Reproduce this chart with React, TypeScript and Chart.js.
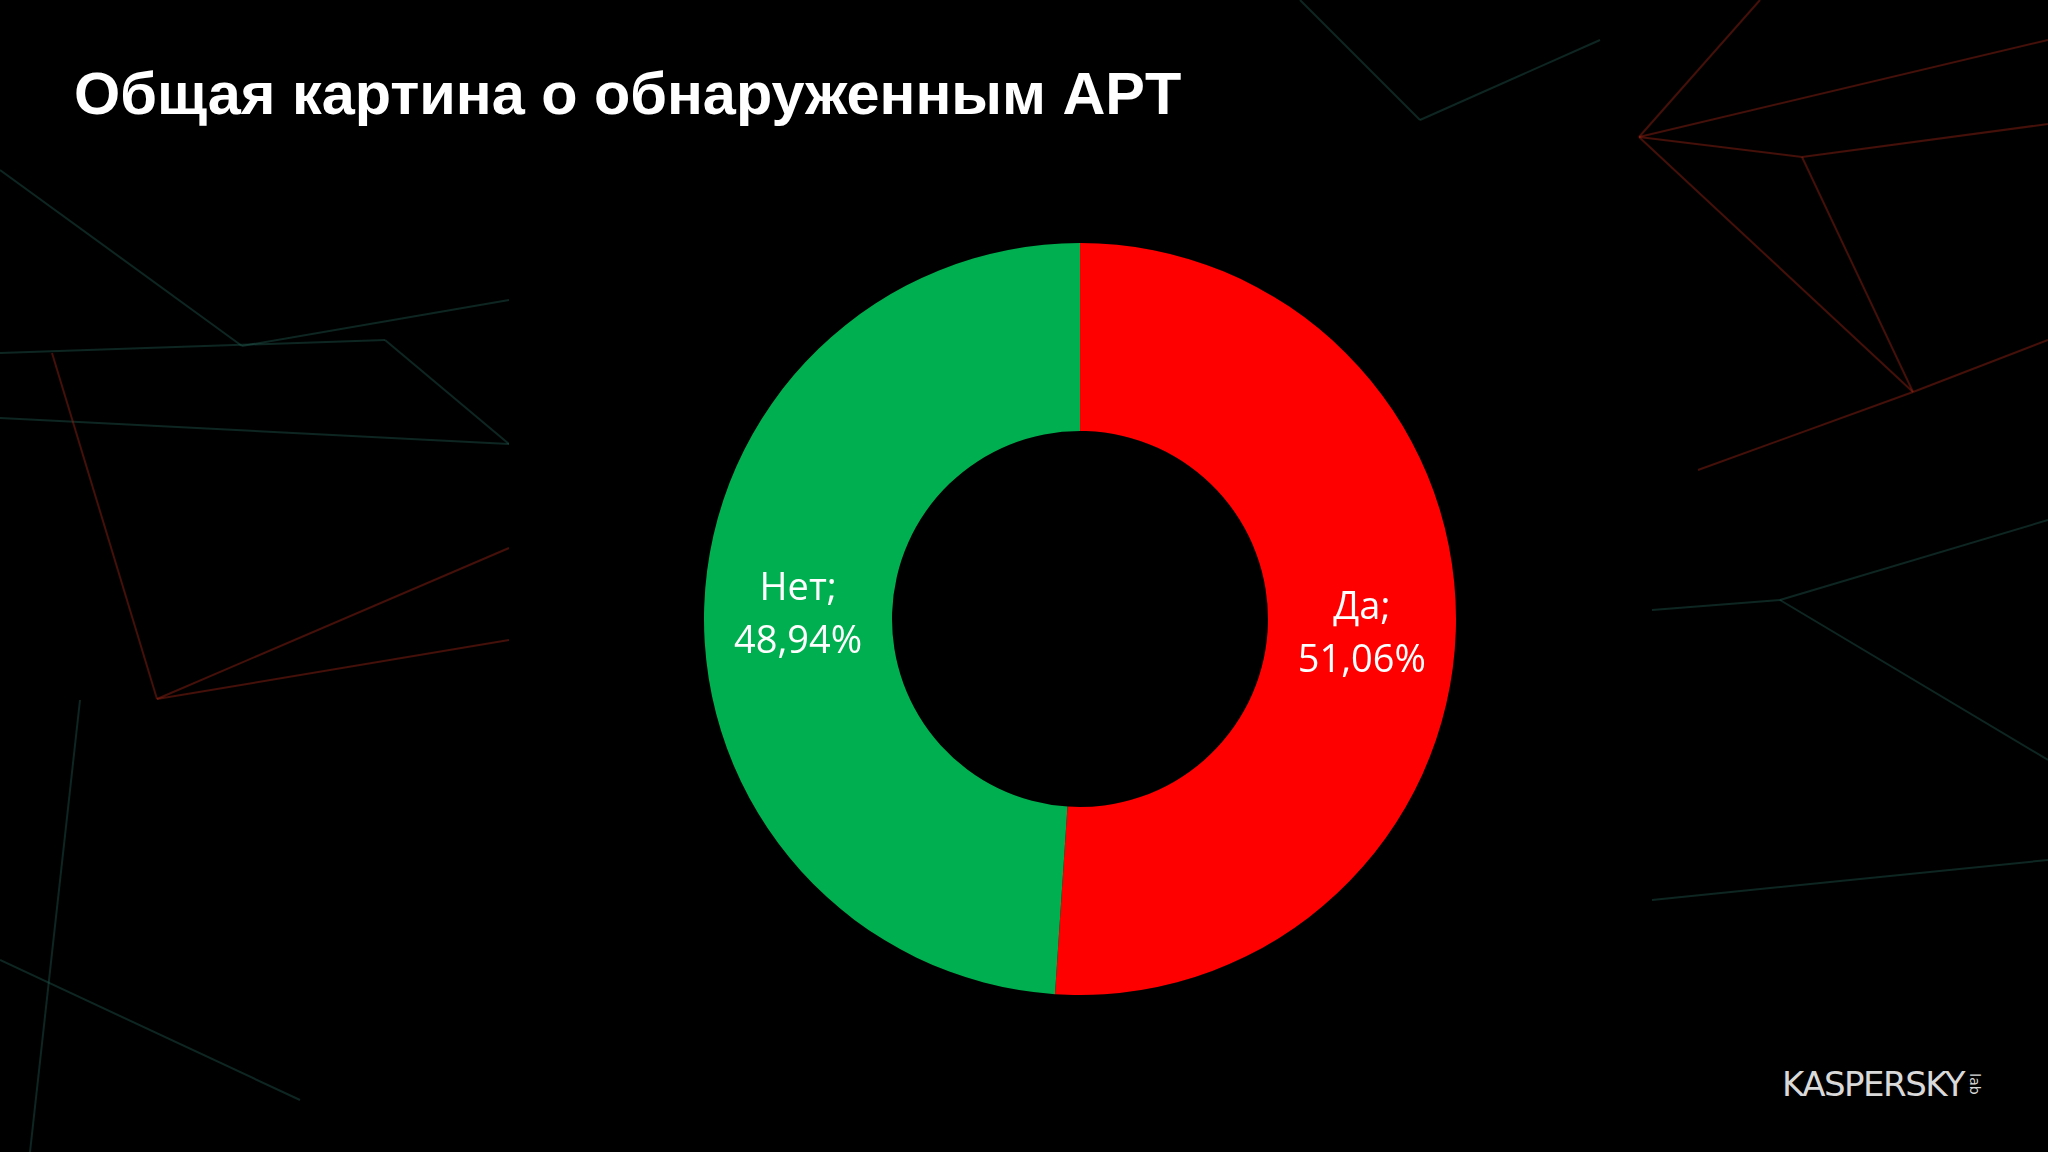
import React, { useEffect, useRef } from "react";
import { Chart, registerables } from "chart.js";

Chart.register(...registerables);

const categories = ["Да", "Нет"];
const values = [51.06, 48.94];
const colors = ["#FF0000", "#00B050"];
const valueLabels = ["51,06%", "48,94%"];
const titleText = "Общая картина о обнаруженным APT";

const labelPlugin = {
  id: "sliceLabels",
  afterDatasetsDraw(chart: any) {
    const ctx = chart.ctx;
    const meta = chart.getDatasetMeta(0);
    ctx.save();
    ctx.fillStyle = "#FFFFFF";
    ctx.font = '38px "Open Sans"';
    ctx.textAlign = "center";
    ctx.textBaseline = "middle";
    meta.data.forEach((arc: any, i: number) => {
      const p = arc.getCenterPoint();
      ctx.fillText(categories[i] + ";", p.x, p.y - 20);
      ctx.fillText(valueLabels[i], p.x, p.y + 33);
    });
    ctx.restore();
  },
};

const teal = "rgba(40,110,95,0.35)";
const red = "rgba(150,35,20,0.45)";
const decoLines: [number, number, number, number, string][] = [
  [1639, 137, 1913, 392, red],
  [1913, 392, 1698, 470, red],
  [1913, 392, 2048, 340, red],
  [1639, 137, 1802, 157, red],
  [1802, 157, 2048, 124, red],
  [1639, 137, 2048, 40, red],
  [1802, 157, 1913, 392, red],
  [1760, 0, 1639, 137, red],
  [0, 418, 509, 444, teal],
  [0, 353, 385, 340, teal],
  [385, 340, 509, 444, teal],
  [0, 170, 242, 346, teal],
  [242, 346, 509, 300, teal],
  [157, 699, 509, 548, red],
  [52, 353, 157, 699, red],
  [157, 699, 509, 640, red],
  [0, 960, 300, 1100, teal],
  [80, 700, 30, 1152, teal],
  [1652, 610, 1780, 600, teal],
  [1780, 600, 2048, 760, teal],
  [1780, 600, 2048, 520, teal],
  [1652, 900, 2048, 860, teal],
  [1300, 0, 1420, 120, teal],
  [1420, 120, 1600, 40, teal],
];

export default function App() {
  const ref = useRef<HTMLCanvasElement>(null);
  useEffect(() => {
    document.body.style.margin = "0";
    document.body.style.background = "#000";
    const chart = new Chart(ref.current!, {
      type: "doughnut",
      data: {
        labels: categories,
        datasets: [
          {
            data: values,
            backgroundColor: colors,
            borderWidth: 0,
          },
        ],
      },
      options: {
        animation: false,
        responsive: false,
        devicePixelRatio: 1,
        cutout: "50%",
        layout: { padding: 0 },
        plugins: {
          legend: { display: false },
          tooltip: { enabled: false },
          title: { display: false },
        },
      },
      plugins: [labelPlugin],
    });
    return () => chart.destroy();
  }, []);

  return (
    <div
      style={{
        position: "relative",
        width: 2048,
        height: 1152,
        background: "#000",
        overflow: "hidden",
      }}
    >
      <svg
        width={2048}
        height={1152}
        style={{ position: "absolute", left: 0, top: 0 }}
      >
        {decoLines.map((l, i) => (
          <line
            key={i}
            x1={l[0]}
            y1={l[1]}
            x2={l[2]}
            y2={l[3]}
            stroke={l[4]}
            strokeWidth={2}
          />
        ))}
        <rect x={509} y={163} width={1143} height={914} fill="#000" />
      </svg>
      <div
        style={{
          position: "absolute",
          left: 74,
          top: 64,
          fontFamily: '"Liberation Sans", Arial, sans-serif',
          fontWeight: "bold",
          fontSize: 60,
          lineHeight: "60px",
          color: "#FFFFFF",
          whiteSpace: "nowrap",
          transform: "scaleX(0.99)",
          transformOrigin: "left top",
        }}
      >
        {titleText}
      </div>
      <canvas
        ref={ref}
        width={752}
        height={752}
        style={{ position: "absolute", left: 704, top: 243, width: 752, height: 752 }}
      />
      <div
        style={{
          position: "absolute",
          left: 1782,
          top: 1064,
          fontFamily: '"DejaVu Sans", sans-serif',
          fontSize: 34,
          lineHeight: "40px",
          color: "#D9D9D9",
          letterSpacing: -1.5,
          whiteSpace: "nowrap",
          display: "flex",
          alignItems: "center",
        }}
      >
        <span>KASPERSKY</span>
        <span
          style={{
            display: "inline-block",
            transform: "rotate(90deg)",
            fontSize: 14,
            marginLeft: 0,
            letterSpacing: 0,
          }}
        >
          lab
        </span>
      </div>
    </div>
  );
}
